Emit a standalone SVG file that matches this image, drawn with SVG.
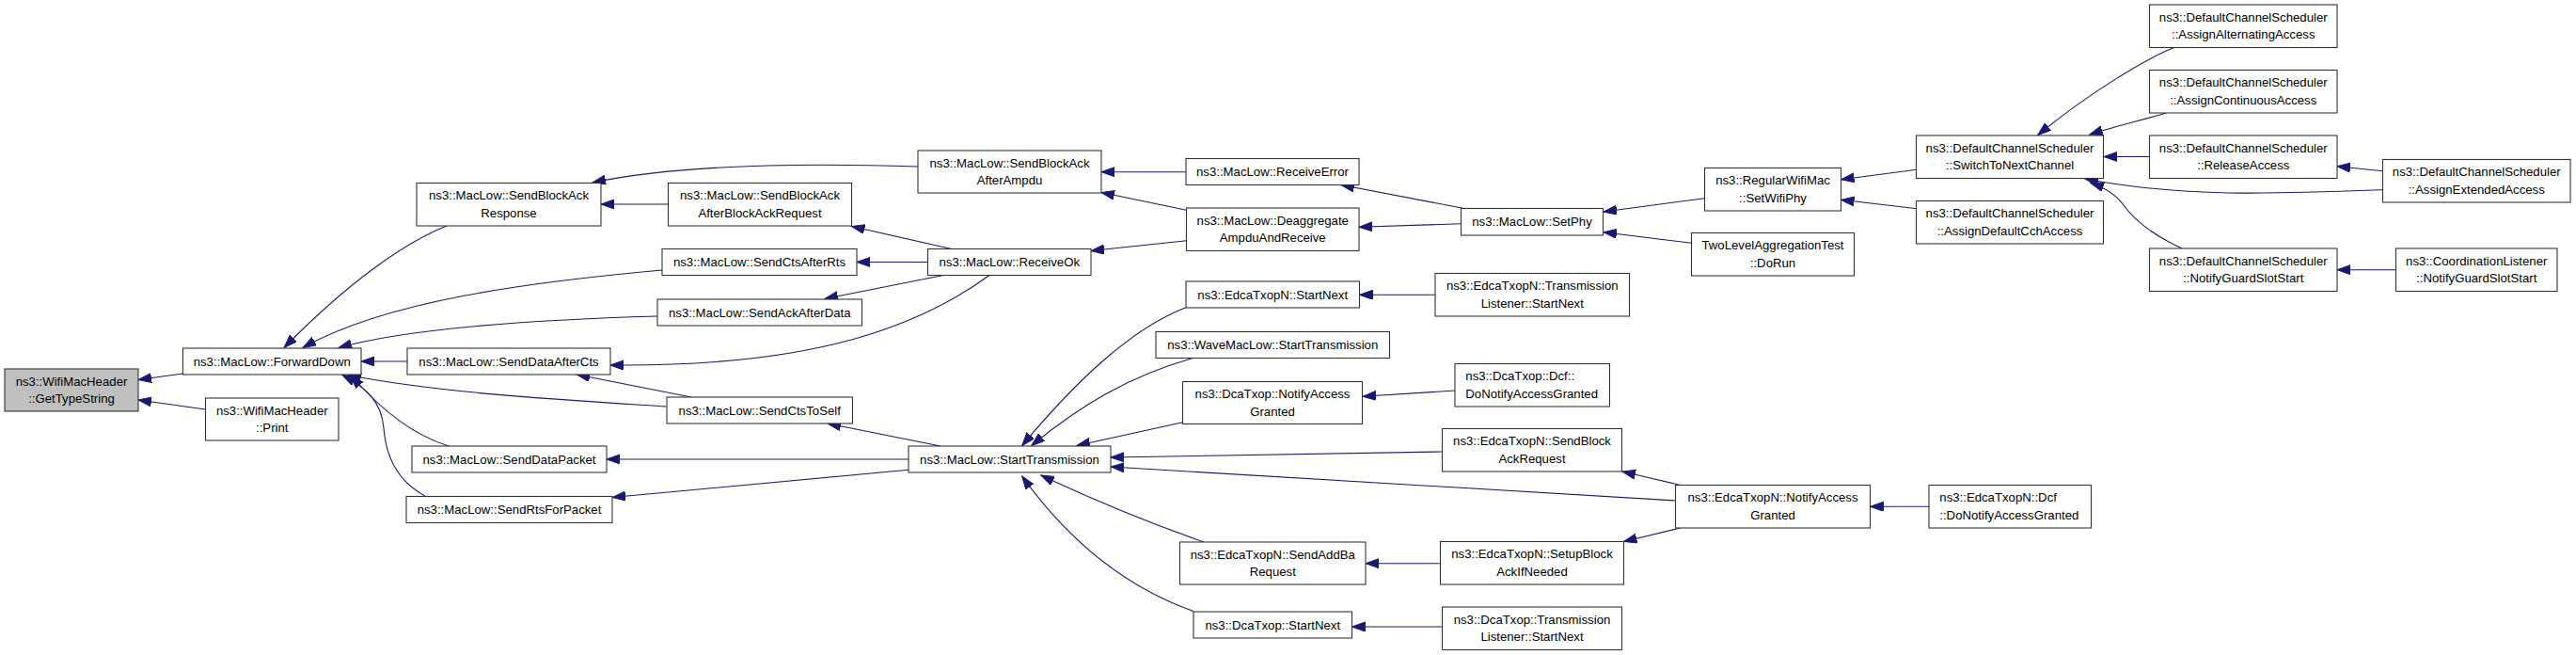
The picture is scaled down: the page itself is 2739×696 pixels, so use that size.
<svg xmlns="http://www.w3.org/2000/svg" width="2739" height="696" viewBox="0 0 2739 696">
<style>
.n rect{fill:#ffffff;stroke:#333333;stroke-width:1.1}
.root rect{fill:#bfbfbf}
text{font-family:"Liberation Sans",Arial,Helvetica,sans-serif;font-size:13.2px;fill:#000000;text-anchor:middle}
.l text{text-anchor:start}
#edges path{fill:none;stroke:#191970;stroke-width:1.1;marker-end:url(#arr)}
</style>
<defs>
<marker id="arr" markerUnits="userSpaceOnUse" markerWidth="15" markerHeight="11" viewBox="0 0 15 11" refX="14" refY="5" orient="auto">
<path d="M0,0 L14,5 L0,10 z" fill="#191970" stroke="#191970" stroke-width="1"/>
</marker>
</defs>
<rect x="0" y="0" width="2739" height="696" fill="#ffffff"/>
<g id="edges">
<path d="M194.5,397 L147,403.5"/>
<path d="M218.5,435 L147,425"/>
<path d="M475,240 C430,258 370,300 302,369.5"/>
<path d="M704,287 C560,300 410,320 322,369.5"/>
<path d="M699,336 C560,340 430,350 360,369.5"/>
<path d="M433,384 L384,384"/>
<path d="M709,432 C600,425 470,418 370,398.5"/>
<path d="M477,474 C440,462 410,440 373,399"/>
<path d="M452,527 C420,510 410,480 408,455 C406,428 390,412 364,398.5"/>
<path d="M710.5,217 L639,217"/>
<path d="M976,177 C850,173 720,175 630,194"/>
<path d="M1261,182.7 L1171,182.7"/>
<path d="M1261.5,223.3 L1171,204.5"/>
<path d="M1261.5,255.7 L1160,266.5"/>
<path d="M1011.7,264.5 L905.5,240.5"/>
<path d="M986.5,278.5 L911,278.5"/>
<path d="M1003,292.5 L877,317.5"/>
<path d="M1052,292.5 C980,345 870,390 649,388"/>
<path d="M1556.7,221.5 L1426,196.5"/>
<path d="M1553.5,237.7 L1445,241.3"/>
<path d="M1526,313.3 L1445.5,313.3"/>
<path d="M1812.5,210.7 L1705,225"/>
<path d="M1798.5,258.3 L1705,246.7"/>
<path d="M2037.5,180.3 L1957.5,190.7"/>
<path d="M2037.5,221.7 L1957.5,212.3"/>
<path d="M2311.7,50.5 C2280,63 2220,100 2166.7,143.5"/>
<path d="M2303.3,120 C2280,127 2250,134 2221.7,143"/>
<path d="M2285.5,166.5 L2237,166.5"/>
<path d="M2533.5,181.7 L2485,176.7"/>
<path d="M2533.5,201.7 C2420,206 2320,210 2217,190"/>
<path d="M2320,264 C2290,250 2270,235 2258,218 C2250,207 2240,200 2223,194.5"/>
<path d="M2547.5,286.7 L2485,286.7"/>
<path d="M1261,326.7 C1200,350 1140,410 1086.7,473.5"/>
<path d="M1268.3,380.5 C1200,400 1150,430 1096.7,473.5"/>
<path d="M1257.5,448.7 L1145,473.5"/>
<path d="M1533.5,480 L1181,486"/>
<path d="M1781.5,532 L1181,496"/>
<path d="M1280,576 C1220,555 1160,530 1106.7,505"/>
<path d="M1269,649.5 C1200,625 1140,580 1086.7,506"/>
<path d="M1000,474 L880,450"/>
<path d="M966,488 L645,488"/>
<path d="M966,499.3 L651,528.5"/>
<path d="M1547,415 L1449,421.3"/>
<path d="M1786.7,515.5 L1725,501"/>
<path d="M1786.7,561 L1726.5,575.5"/>
<path d="M1531.5,598.7 L1452,598.7"/>
<path d="M1533.5,666 L1437.5,666"/>
<path d="M2051,538.3 L1988.5,538.3"/>
<path d="M735,422 L613.3,398"/>
</g>
<g id="n_gettype" class="n root"><rect x="5" y="392" width="142" height="45"/><text x="76" y="409.5">ns3::WifiMacHeader</text><text x="76" y="427.9">::GetTypeString</text></g>
<g id="n_forwarddown" class="n"><rect x="194.5" y="370" width="189.5" height="28"/><text x="289.25" y="388.5">ns3::MacLow::ForwardDown</text></g>
<g id="n_print" class="n"><rect x="218.5" y="423" width="141.5" height="45"/><text x="289.25" y="440.5">ns3::WifiMacHeader</text><text x="289.25" y="458.9">::Print</text></g>
<g id="n_sbaresp" class="n"><rect x="443" y="194.5" width="196" height="45.5"/><text x="541" y="212.4">ns3::MacLow::SendBlockAck</text><text x="541" y="230.8">Response</text></g>
<g id="n_ctsafterrts" class="n"><rect x="704" y="264.5" width="207" height="28"/><text x="807.5" y="283">ns3::MacLow::SendCtsAfterRts</text></g>
<g id="n_ackafterdata" class="n"><rect x="699" y="318" width="217.5" height="28"/><text x="807.75" y="336.5">ns3::MacLow::SendAckAfterData</text></g>
<g id="n_dataaftercts" class="n"><rect x="433" y="370" width="216" height="28"/><text x="541" y="388.5">ns3::MacLow::SendDataAfterCts</text></g>
<g id="n_ctstoself" class="n"><rect x="709" y="422" width="197.5" height="28"/><text x="807.75" y="440.5">ns3::MacLow::SendCtsToSelf</text></g>
<g id="n_datapacket" class="n"><rect x="438" y="474" width="207" height="28"/><text x="541.5" y="492.5">ns3::MacLow::SendDataPacket</text></g>
<g id="n_rtsforpacket" class="n"><rect x="432" y="527.5" width="219" height="28"/><text x="541.5" y="546">ns3::MacLow::SendRtsForPacket</text></g>
<g id="n_sbaafterbar" class="n"><rect x="710.5" y="194.5" width="195" height="45.5"/><text x="808" y="212.4">ns3::MacLow::SendBlockAck</text><text x="808" y="230.8">AfterBlockAckRequest</text></g>
<g id="n_receiveok" class="n"><rect x="986.5" y="264.5" width="173.5" height="28"/><text x="1073.25" y="283">ns3::MacLow::ReceiveOk</text></g>
<g id="n_sbaafterampdu" class="n"><rect x="976" y="160" width="195" height="45"/><text x="1073.5" y="177.7">ns3::MacLow::SendBlockAck</text><text x="1073.5" y="196.1">AfterAmpdu</text></g>
<g id="n_starttx" class="n"><rect x="966" y="474" width="215" height="28"/><text x="1073.5" y="492.5">ns3::MacLow::StartTransmission</text></g>
<g id="n_receiveerror" class="n"><rect x="1261" y="168.5" width="184" height="28"/><text x="1353" y="187">ns3::MacLow::ReceiveError</text></g>
<g id="n_deagg" class="n"><rect x="1261.5" y="221" width="183.5" height="45.5"/><text x="1353.25" y="238.9">ns3::MacLow::Deaggregate</text><text x="1353.25" y="257.3">AmpduAndReceive</text></g>
<g id="n_edcastartnext" class="n"><rect x="1261" y="299" width="184.5" height="28"/><text x="1353.25" y="317.5">ns3::EdcaTxopN::StartNext</text></g>
<g id="n_wavestarttx" class="n"><rect x="1229" y="352.5" width="248.5" height="28"/><text x="1353.25" y="371">ns3::WaveMacLow::StartTransmission</text></g>
<g id="n_dcanotify" class="n"><rect x="1257.5" y="405.5" width="191" height="45"/><text x="1353" y="423.2">ns3::DcaTxop::NotifyAccess</text><text x="1353" y="441.6">Granted</text></g>
<g id="n_sendaddba" class="n"><rect x="1254.5" y="576" width="197.5" height="45"/><text x="1353.25" y="593.7">ns3::EdcaTxopN::SendAddBa</text><text x="1353.25" y="612.1">Request</text></g>
<g id="n_dcastartnext" class="n"><rect x="1269" y="650" width="168.5" height="28"/><text x="1353.25" y="668.5">ns3::DcaTxop::StartNext</text></g>
<g id="n_setphy" class="n"><rect x="1553.5" y="221.5" width="151" height="28.5"/><text x="1629" y="240.2">ns3::MacLow::SetPhy</text></g>
<g id="n_edcatlstartnext" class="n"><rect x="1526" y="290.5" width="206.5" height="45.5"/><text x="1629.25" y="308.4">ns3::EdcaTxopN::Transmission</text><text x="1629.25" y="326.8">Listener::StartNext</text></g>
<g id="n_dcadonotify" class="n l"><rect x="1547" y="386.5" width="164.5" height="45.5"/><text x="1558.3" y="404.4">ns3::DcaTxop::Dcf::</text><text x="1558.3" y="422.8">DoNotifyAccessGranted</text></g>
<g id="n_edcasendbar" class="n"><rect x="1533.5" y="455.5" width="191" height="45.5"/><text x="1629" y="473.4">ns3::EdcaTxopN::SendBlock</text><text x="1629" y="491.8">AckRequest</text></g>
<g id="n_edcasetupba" class="n"><rect x="1531.5" y="575.5" width="195" height="45.5"/><text x="1629" y="593.4">ns3::EdcaTxopN::SetupBlock</text><text x="1629" y="611.8">AckIfNeeded</text></g>
<g id="n_dcatlstartnext" class="n"><rect x="1533.5" y="645" width="191" height="45.5"/><text x="1629" y="662.9">ns3::DcaTxop::Transmission</text><text x="1629" y="681.3">Listener::StartNext</text></g>
<g id="n_regwifimac" class="n"><rect x="1812.5" y="178.5" width="145" height="45.5"/><text x="1885" y="196.4">ns3::RegularWifiMac</text><text x="1885" y="214.8">::SetWifiPhy</text></g>
<g id="n_twolevel" class="n"><rect x="1798.5" y="247.5" width="173" height="45.5"/><text x="1885" y="265.4">TwoLevelAggregationTest</text><text x="1885" y="283.8">::DoRun</text></g>
<g id="n_edcanotify" class="n"><rect x="1781.5" y="515.5" width="207" height="45.5"/><text x="1885" y="533.4">ns3::EdcaTxopN::NotifyAccess</text><text x="1885" y="551.8">Granted</text></g>
<g id="n_switch" class="n"><rect x="2037.5" y="144" width="199" height="45.5"/><text x="2137" y="161.9">ns3::DefaultChannelScheduler</text><text x="2137" y="180.3">::SwitchToNextChannel</text></g>
<g id="n_assigndefault" class="n"><rect x="2037.5" y="213.5" width="199" height="45.5"/><text x="2137" y="231.4">ns3::DefaultChannelScheduler</text><text x="2137" y="249.8">::AssignDefaultCchAccess</text></g>
<g id="n_edcadcf" class="n l"><rect x="2051" y="515.5" width="172.5" height="45.5"/><text x="2062.3" y="533.4">ns3::EdcaTxopN::Dcf</text><text x="2062.3" y="551.8">::DoNotifyAccessGranted</text></g>
<g id="n_alternating" class="n"><rect x="2285.5" y="5" width="199.5" height="45.5"/><text x="2385.25" y="22.9">ns3::DefaultChannelScheduler</text><text x="2385.25" y="41.3">::AssignAlternatingAccess</text></g>
<g id="n_continuous" class="n"><rect x="2285.5" y="74.5" width="199.5" height="45.5"/><text x="2385.25" y="92.4">ns3::DefaultChannelScheduler</text><text x="2385.25" y="110.8">::AssignContinuousAccess</text></g>
<g id="n_release" class="n"><rect x="2285.5" y="144" width="199.5" height="45.5"/><text x="2385.25" y="161.9">ns3::DefaultChannelScheduler</text><text x="2385.25" y="180.3">::ReleaseAccess</text></g>
<g id="n_notifyguard" class="n"><rect x="2285.5" y="264" width="199.5" height="45.5"/><text x="2385.25" y="281.9">ns3::DefaultChannelScheduler</text><text x="2385.25" y="300.3">::NotifyGuardSlotStart</text></g>
<g id="n_extended" class="n"><rect x="2533.5" y="169.5" width="199.5" height="45.5"/><text x="2633.25" y="187.4">ns3::DefaultChannelScheduler</text><text x="2633.25" y="205.8">::AssignExtendedAccess</text></g>
<g id="n_coordlistener" class="n"><rect x="2547.5" y="264" width="171.5" height="45.5"/><text x="2633.25" y="281.9">ns3::CoordinationListener</text><text x="2633.25" y="300.3">::NotifyGuardSlotStart</text></g>
</svg>
